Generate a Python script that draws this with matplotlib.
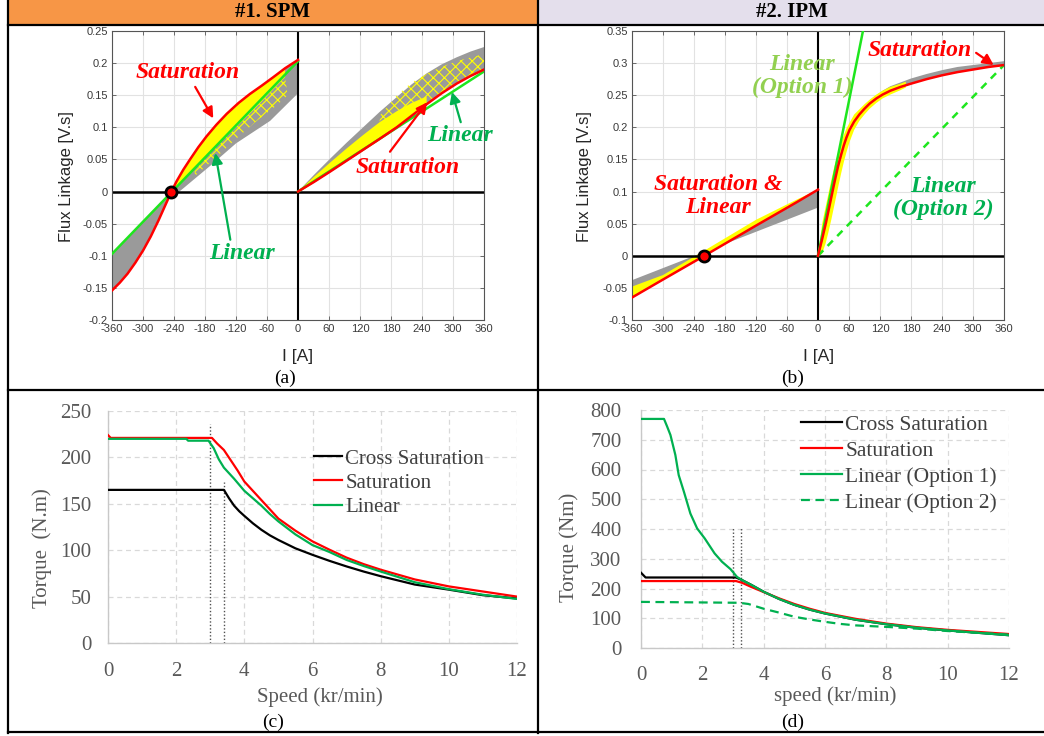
import matplotlib
matplotlib.use('Agg')
import matplotlib.pyplot as plt
import numpy as np
from matplotlib.patches import Rectangle
from matplotlib.lines import Line2D

# ---------------- DATA ----------------
# Panel (a) SPM flux linkage, negative current side
a_neg_I = [-360, -345, -330, -315, -300, -285, -270, -255, -245, -235, -222, -209, -193, -177,
           -158, -138, -115, -93, -70, -48, -25, 0]
a_neg_sat = [-0.154, -0.142, -0.128, -0.111, -0.092, -0.070, -0.045, -0.018, 0.0, 0.016, 0.034,
             0.050, 0.069, 0.086, 0.104, 0.121, 0.138, 0.152, 0.165, 0.178, 0.192, 0.205]
a_neg_gray_lo_I = [-245, -222, -170, -120, -54, 0]
a_neg_gray_lo = [-0.010, 0.005, 0.040, 0.075, 0.110, 0.153]
a_neg_lin_I = [-360, 0]
a_neg_lin = [-0.097, 0.203]
a_neg_yel_I = [-245, -200, -160, -120, -80, -40, -25]
a_neg_yel_lo = [0.0, 0.036, 0.068, 0.100, 0.132, 0.166, 0.178]
a_neg_dots_I = [-200, -160, -120, -80, -40, -20]
a_neg_dots_lo = [0.024, 0.052, 0.082, 0.110, 0.135, 0.150]
# Panel (a), positive current side
a_pos_I = [0, 31, 62, 94, 126, 158, 191, 220, 249, 278, 307, 334, 360]
a_pos_sat = [0.0, 0.015, 0.031, 0.048, 0.065, 0.082, 0.100, 0.118, 0.136, 0.153, 0.168, 0.180, 0.190]
a_pos_gray_hi = [0.0, 0.026, 0.051, 0.076, 0.100, 0.124, 0.147, 0.167, 0.184, 0.198, 0.209, 0.218, 0.225]
a_pos_lin_I = [0, 360]
a_pos_lin = [0.0, 0.187]
a_pos_yel_I = [0, 31, 62, 94, 126, 158, 191, 220, 249]
a_pos_yel = [0.0, 0.023, 0.045, 0.067, 0.088, 0.108, 0.125, 0.138, 0.148]
a_pos_dots_I = [158, 191, 220, 255, 290, 320, 360]
a_pos_dots = [0.118, 0.150, 0.170, 0.186, 0.198, 0.206, 0.214]
a_zero = (-245, 0.0)

# Panel (b) IPM flux linkage
b_neg_I = [-360, -300, -220, -120, -40, 0]
b_neg_sat = [-0.065, -0.037, 0.0, 0.047, 0.084, 0.103]
b_neg_yel = [-0.048, -0.030, 0.008, 0.056, 0.088, 0.103]
b_neg_gray_I = [-360, 0]
b_neg_gray = [-0.038, 0.075]
b_pos_I = [0, 8, 15, 20, 26, 32, 39, 45, 50, 55, 61, 70, 80, 90, 100, 113, 125, 140, 160, 180,
           210, 240, 270, 300, 330, 360]
b_pos_sat = [0.0, 0.026, 0.050, 0.069, 0.092, 0.115, 0.140, 0.158, 0.172, 0.184, 0.196, 0.209,
             0.220, 0.229, 0.237, 0.245, 0.251, 0.257, 0.263, 0.268, 0.275, 0.281, 0.286, 0.290,
             0.294, 0.297]
b_yel_I = [0, 8, 15, 20, 26, 32, 39, 45, 50, 55, 61, 70, 80, 90, 100, 113, 125, 140, 160, 170]
b_yel_hi = [0.0, 0.050, 0.077, 0.096, 0.119, 0.140, 0.161, 0.177, 0.188, 0.198, 0.207, 0.220,
            0.228, 0.236, 0.243, 0.251, 0.257, 0.263, 0.268, 0.271]
b_yel_lo = [0.0, 0.003, 0.020, 0.036, 0.057, 0.080, 0.107, 0.129, 0.146, 0.161, 0.177, 0.196,
            0.210, 0.220, 0.229, 0.238, 0.245, 0.251, 0.258, 0.262]
b_gray_I = [100, 113, 125, 140, 160, 180, 210, 240, 270, 300, 330, 360]
b_gray_hi = [0.242, 0.250, 0.257, 0.264, 0.270, 0.276, 0.283, 0.289, 0.294, 0.297, 0.300, 0.303]
b_opt1_I = [0, 87]
b_opt1 = [0.0, 0.35]
b_opt2_I = [0, 360]
b_opt2 = [0.0, 0.297]
b_zero = (-220, 0.0)

# Panel (c) SPM torque-speed
c_cross_s = [0, 3.4, 3.55, 3.7, 3.85, 4.0, 4.25, 4.5, 4.75, 5.0, 5.5, 6.0, 6.5, 7.0, 7.5, 8.0, 9.0, 10.0, 11.0, 12.0]
c_cross_t = [165, 165, 156, 148, 142, 137, 129, 122, 116, 111, 102, 95, 88.5, 82.5, 77, 72, 63, 57.5, 51.5, 48]
c_sat_s = [0, 0.08, 3.05, 3.2, 3.4, 3.6, 3.8, 4.0, 4.25, 4.5, 4.75, 5.0, 5.5, 6.0, 6.5, 7.0, 7.5, 8.0, 9.0, 10.0, 11.0, 12.0]
c_sat_t = [224, 221, 221, 215, 208, 197, 186, 174, 164, 154, 144, 134, 121, 109.5, 100.5, 92, 85, 79, 68.5, 61, 55.5, 50]
c_lin_s = [0, 2.3, 2.35, 2.95, 3.1, 3.25, 3.4, 3.7, 4.0, 4.25, 4.5, 4.75, 5.0, 5.5, 6.0, 6.5, 7.0, 7.5, 8.0, 9.0, 10.0, 11.0, 12.0]
c_lin_t = [220, 220, 218, 218, 210, 198, 189, 177, 164, 156, 148, 139, 131, 117, 105.5, 98, 89.5, 83, 77, 65.5, 58, 52, 47.5]
c_vl_x = [3.0, 3.4]
c_vl_top = [236, 173]

# Panel (d) IPM torque-speed
d_cross_s = [0, 0.15, 3.1, 3.3, 3.6, 4.0, 4.5, 5.0, 5.5, 6.0, 7.0, 8.0, 9.0, 10.0, 11.0, 12.0]
d_cross_t = [253, 237, 237, 228, 212, 189, 165, 145, 129, 116, 95, 80, 68, 59, 51, 43]
d_sat_s = [0, 3.1, 3.3, 3.6, 4.0, 4.5, 5.0, 5.5, 6.0, 7.0, 8.0, 9.0, 10.0, 11.0, 12.0]
d_sat_t = [225, 225, 219, 205, 188, 167, 148, 132, 118, 98, 82, 70, 61, 54, 47]
d_opt1_s = [0, 0.75, 0.85, 0.96, 1.12, 1.23, 1.4, 1.61, 1.83, 2.08, 2.4, 2.64, 2.92, 3.13, 3.3, 3.6, 4.0, 4.5, 5.0, 5.5, 6.0, 7.0, 8.0, 9.0, 10.0, 11.0, 12.0]
d_opt1_t = [770, 770, 745, 716, 649, 581, 525, 452, 402, 368, 318, 290, 265, 239, 228, 212, 189, 165, 145, 129, 116, 95, 80, 68, 59, 51, 43]
d_opt2_s = [0, 3.2, 3.5, 4.0, 4.5, 5.0, 5.5, 6.0, 6.5, 7.0, 8.0, 9.0, 10.0, 11.0, 12.0]
d_opt2_t = [155, 152, 148, 132, 119, 105, 96, 88, 81, 76, 71, 65, 57, 51, 45]
d_vl_x = [3.0, 3.25]
d_vl_top = [402, 402]

# tick labels
flux_xticks = list(range(-360, 361, 60))
a_yticks = [-0.2, -0.15, -0.1, -0.05, 0, 0.05, 0.1, 0.15, 0.2, 0.25]
a_ylabels = ['-0.2', '-0.15', '-0.1', '-0.05', '0', '0.05', '0.1', '0.15', '0.2', '0.25']
b_yticks = [-0.1, -0.05, 0, 0.05, 0.1, 0.15, 0.2, 0.25, 0.3, 0.35]
b_ylabels = ['-0.1', '-0.05', '0', '0.05', '0.1', '0.15', '0.2', '0.25', '0.3', '0.35']
speed_ticks = [0, 2, 4, 6, 8, 10, 12]
c_yticks = [0, 50, 100, 150, 200, 250]
d_yticks = [0, 100, 200, 300, 400, 500, 600, 700, 800]

# ---------------- LAYOUT ----------------
W, H = 1044, 736
plt.rcParams['font.family'] = ['Liberation Sans', 'DejaVu Sans']
plt.rcParams['hatch.linewidth'] = 0.8
fig = plt.figure(figsize=(W / 100, H / 100), dpi=100)
SERIF = ['Liberation Serif', 'DejaVu Serif']
RED = '#FF0000'
LGREEN = '#1EE61E'
DGREEN = '#00B050'
GRAY = '#9A9A9A'
YEL = '#FFFF00'


def fx(x):
    return x / W


def fy(y):
    return 1 - y / H


def axrect(l, t, r, b):
    return [l / W, 1 - b / H, (r - l) / W, (b - t) / H]


# table background / borders
fig.patches.append(Rectangle((fx(8), fy(24)), fx(538) - fx(8), fy(0) - fy(24),
                             transform=fig.transFigure, facecolor='#F79646', edgecolor='none', zorder=0))
fig.patches.append(Rectangle((fx(538), fy(24)), fx(1044) - fx(538), fy(0) - fy(24),
                             transform=fig.transFigure, facecolor='#E4DFEC', edgecolor='none', zorder=0))
for (x0, y0, x1, y1, lw) in [(8, 0, 8, 733, 1.6), (538, 0, 538, 733, 1.6),
                             (8, 24.5, 1044, 24.5, 1.6), (8, 390, 1044, 390, 1.6),
                             (8, 732, 1044, 732, 1.6)]:
    fig.add_artist(Line2D([fx(x0), fx(x1)], [fy(y0), fy(y1)], transform=fig.transFigure,
                          color='black', lw=lw, zorder=5))

fig.text(fx(273), fy(12), '#1. SPM', ha='center', va='center', fontsize=15,
         fontweight='bold', family=SERIF)
fig.text(fx(792), fy(12), '#2. IPM', ha='center', va='center', fontsize=15,
         fontweight='bold', family=SERIF)


def style_matlab(ax, yticks, ylabels):
    ax.set_xlim(-360, 360)
    ax.set_xticks(flux_xticks)
    ax.set_xticklabels([str(v) for v in flux_xticks])
    ax.set_yticks(yticks)
    ax.set_yticklabels(ylabels)
    ax.set_ylim(yticks[0], yticks[-1])
    ax.tick_params(direction='in', length=3, width=0.6, colors='#555555', labelsize=8,
                   labelcolor='#3A3A3A', pad=3, top=True, right=True)
    ax.grid(True, color='#E2E2E2', lw=0.8)
    ax.set_axisbelow(True)
    for s in ax.spines.values():
        s.set_color('#555555')
        s.set_linewidth(0.8)
    ax.axhline(0, color='black', lw=1.8, zorder=2)
    ax.axvline(0, color='black', lw=1.5, zorder=2)


def annot(ax, txt, xy, color, arrow=None, size=17):
    ax.text(xy[0], xy[1], txt, color=color, fontsize=size, fontweight='bold', fontstyle='italic',
            family=SERIF, ha='center', va='center', linespacing=1.1, zorder=6, clip_on=False)
    if arrow is not None:
        ax.annotate('', xy=arrow[1], xytext=arrow[0],
                    arrowprops=dict(arrowstyle='-|>', color=color, lw=1.6, mutation_scale=16,
                                    shrinkA=0, shrinkB=0), zorder=6, annotation_clip=False)


# ---------- (a) ----------
axA = fig.add_axes(axrect(112, 31, 484, 320))
style_matlab(axA, a_yticks, a_ylabels)
i0 = a_neg_I.index(-245)
axA.fill(a_neg_I[:i0 + 1] + [a_neg_lin_I[0]], a_neg_sat[:i0 + 1] + [a_neg_lin[0]],
         color=GRAY, lw=0, zorder=1)
axA.fill(a_neg_gray_lo_I + a_neg_I[i0:][::-1], a_neg_gray_lo + a_neg_sat[i0:][::-1],
         color=GRAY, lw=0, zorder=1)
k1 = a_neg_I.index(-25)
axA.fill(a_neg_I[i0:k1 + 1] + a_neg_yel_I[::-1], a_neg_sat[i0:k1 + 1] + a_neg_yel_lo[::-1],
         color=YEL, lw=0, zorder=1.2)
axA.fill(a_neg_yel_I[1:] + a_neg_dots_I[::-1], a_neg_yel_lo[1:] + a_neg_dots_lo[::-1],
         facecolor='none', edgecolor=YEL, hatch='xxx', lw=0, zorder=1.1)
axA.fill(a_pos_I + a_pos_I[::-1], a_pos_gray_hi + a_pos_sat[::-1], color=GRAY, lw=0, zorder=1)
n_y = len(a_pos_yel_I)
axA.fill(a_pos_yel_I + a_pos_I[:n_y][::-1], a_pos_yel + a_pos_sat[:n_y][::-1], color=YEL, lw=0, zorder=1.2)
k2 = a_pos_I.index(158)
axA.fill(a_pos_dots_I + a_pos_I[k2:][::-1], a_pos_dots + a_pos_sat[k2:][::-1], facecolor='none',
         edgecolor=YEL, hatch='xxx', lw=0, zorder=1.1)
axA.plot(a_neg_lin_I, a_neg_lin, color=LGREEN, lw=1.8, zorder=3)
axA.plot(a_pos_lin_I, a_pos_lin, color=LGREEN, lw=1.8, zorder=3)
axA.plot(a_neg_I, a_neg_sat, color=RED, lw=1.8, zorder=3.5)
axA.plot(a_pos_I, a_pos_sat, color=RED, lw=1.8, zorder=3.5)
axA.plot([a_zero[0]], [a_zero[1]], 'o', mfc=RED, mec='black', ms=8, mew=2, zorder=5)

annot(axA, 'Saturation', (-213, 0.186), RED, ((-199, 0.163), (-164, 0.114)))
annot(axA, 'Linear', (-108, -0.097), DGREEN, ((-131, -0.075), (-160, 0.060)))
annot(axA, 'Linear', (313, 0.088), DGREEN, ((315, 0.108), (298, 0.155)))
annot(axA, 'Saturation', (213, 0.038), RED, ((178, 0.062), (250, 0.139)))

fig.text(fx(67), fy(177), 'Flux Linkage [V.s]', rotation=90, ha='center', va='center',
         fontsize=12, color='#262626')
fig.text(fx(298), fy(356), 'I [A]', ha='center', va='center', fontsize=12.5, color='#262626')
fig.text(fx(285), fy(378), '(a)', ha='center', va='center', fontsize=14, family=SERIF)

# ---------- (b) ----------
axB = fig.add_axes(axrect(632, 31, 1004, 320))
style_matlab(axB, b_yticks, b_ylabels)
axB.fill(b_neg_gray_I + b_neg_I[::-1], b_neg_gray + b_neg_sat[::-1], color=GRAY, lw=0, zorder=1)
axB.fill(b_neg_I + b_neg_I[::-1], b_neg_yel + b_neg_sat[::-1], color=YEL, lw=0, zorder=1.2)
j0 = b_pos_I.index(100)
axB.fill(b_gray_I + b_pos_I[j0:][::-1], b_gray_hi + b_pos_sat[j0:][::-1], color=GRAY, lw=0, zorder=1)
axB.fill(b_yel_I + b_yel_I[::-1], b_yel_hi + b_yel_lo[::-1], color=YEL, lw=0, zorder=1.2)
axB.plot(b_opt1_I, b_opt1, color=LGREEN, lw=1.8, zorder=3)
axB.plot(b_opt2_I, b_opt2, color=LGREEN, lw=1.8, ls=(0, (3, 2.5)), zorder=3)
axB.plot(b_neg_I, b_neg_sat, color=RED, lw=1.8, zorder=3.5)
axB.plot(b_pos_I, b_pos_sat, color=RED, lw=1.8, zorder=3.5)
axB.plot([b_zero[0]], [b_zero[1]], 'o', mfc=RED, mec='black', ms=8, mew=2, zorder=5)

annot(axB, 'Linear\n(Option 1)', (-31, 0.280), '#92D050')
annot(axB, 'Saturation', (197, 0.319), RED, ((306, 0.316), (340, 0.297)))
annot(axB, 'Saturation &\nLinear', (-193, 0.093), RED)
annot(axB, 'Linear\n(Option 2)', (242, 0.090), DGREEN)

fig.text(fx(585), fy(177), 'Flux Linkage [V.s]', rotation=90, ha='center', va='center',
         fontsize=12, color='#262626')
fig.text(fx(819), fy(356), 'I [A]', ha='center', va='center', fontsize=12.5, color='#262626')
fig.text(fx(793), fy(378), '(b)', ha='center', va='center', fontsize=14, family=SERIF)


# ---------- Excel style ----------
def style_excel(ax, yticks, ypad, xpad):
    ax.set_xlim(0, 12)
    ax.set_ylim(yticks[0], yticks[-1])
    ax.set_xticks(speed_ticks)
    ax.set_yticks(yticks)
    ax.tick_params(length=0, labelsize=15, labelcolor='#595959')
    ax.tick_params(axis='y', pad=ypad)
    ax.tick_params(axis='x', pad=xpad)
    for lab in ax.get_xticklabels() + ax.get_yticklabels():
        lab.set_family(SERIF)
    ax.grid(True, color='#D9D9D9', lw=0.9, ls=(0, (4, 3)))
    ax.set_axisbelow(True)
    for k in ['top', 'right']:
        ax.spines[k].set_visible(False)
    for k in ['left', 'bottom']:
        ax.spines[k].set_color('#C8C8C8')
        ax.spines[k].set_linewidth(1.0)


# ---------- (c) ----------
axC = fig.add_axes(axrect(108, 411, 517, 643))
style_excel(axC, c_yticks, 12, 14)
for xv, top in zip(c_vl_x, c_vl_top):
    axC.plot([xv, xv], [0, top], color='#505050', lw=1.0, ls=(0, (1, 1.5)), zorder=2)
l1, = axC.plot(c_cross_s, c_cross_t, color='black', lw=1.6, label='Cross Saturation', zorder=3)
l2, = axC.plot(c_sat_s, c_sat_t, color=RED, lw=1.6, label='Saturation', zorder=3)
l3, = axC.plot(c_lin_s, c_lin_t, color=DGREEN, lw=1.6, label='Linear', zorder=3)
legC = axC.legend(handles=[l1, l2, l3], loc='upper left', bbox_to_anchor=(fx(314), fy(449)),
                  bbox_transform=fig.transFigure, frameon=False, prop={'family': SERIF, 'size': 15},
                  handlelength=1.35, handletextpad=0.15, labelspacing=0.22, borderpad=0,
                  borderaxespad=0)
for t in legC.get_texts():
    t.set_color('#404040')
fig.text(fx(42), fy(548), 'Torque  (N.m)', rotation=90, ha='center', va='center', fontsize=15,
         family=SERIF, color='#595959')
fig.text(fx(320), fy(697), 'Speed (kr/min)', ha='center', va='center', fontsize=15,
         family=SERIF, color='#595959')
fig.text(fx(273), fy(722), '(c)', ha='center', va='center', fontsize=14, family=SERIF)

# ---------- (d) ----------
axD = fig.add_axes(axrect(641, 410, 1009, 648))
style_excel(axD, d_yticks, 14, 13)
for xv, top in zip(d_vl_x, d_vl_top):
    axD.plot([xv, xv], [0, top], color='#505050', lw=1.0, ls=(0, (1, 1.5)), zorder=2)
m1, = axD.plot(d_cross_s, d_cross_t, color='black', lw=1.6, label='Cross Saturation', zorder=3)
m2, = axD.plot(d_sat_s, d_sat_t, color=RED, lw=1.6, label='Saturation', zorder=3.2)
m4, = axD.plot(d_opt2_s, d_opt2_t, color=DGREEN, lw=1.6, ls=(0, (4, 2.5)), label='Linear (Option 2)', zorder=3.3)
m3, = axD.plot(d_opt1_s, d_opt1_t, color=DGREEN, lw=1.6, label='Linear (Option 1)', zorder=3.4)
legD = axD.legend(handles=[m1, m2, m3, m4], loc='upper left', bbox_to_anchor=(fx(801), fy(414.5)),
                  bbox_transform=fig.transFigure, frameon=False, prop={'family': SERIF, 'size': 15.5},
                  handlelength=1.9, handletextpad=0.15, labelspacing=0.28, borderpad=0,
                  borderaxespad=0)
for t in legD.get_texts():
    t.set_color('#404040')
fig.text(fx(569), fy(547), 'Torque (Nm)', rotation=90, ha='center', va='center', fontsize=15,
         family=SERIF, color='#595959')
fig.text(fx(835), fy(696), 'speed (kr/min)', ha='center', va='center', fontsize=15,
         family=SERIF, color='#595959')
fig.text(fx(793), fy(722), '(d)', ha='center', va='center', fontsize=14, family=SERIF)

fig.savefig('out.png', dpi=100)
